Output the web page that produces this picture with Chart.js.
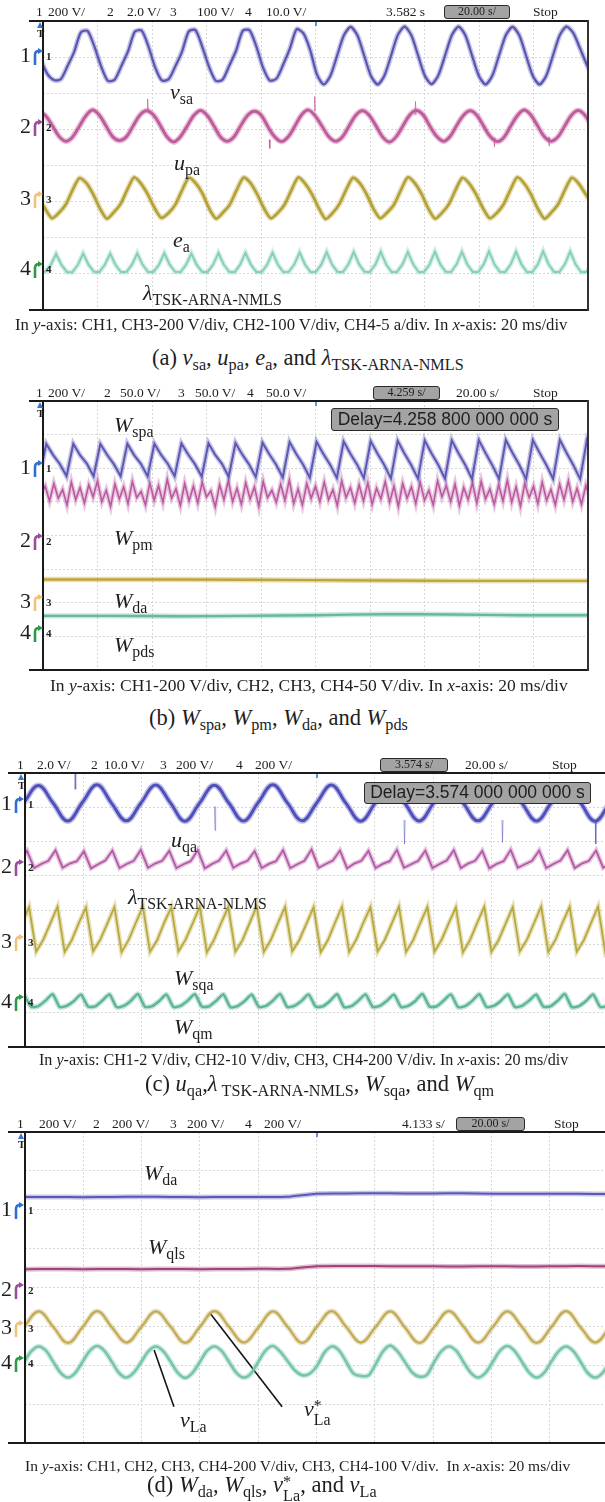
<!DOCTYPE html>
<html>
<head>
<meta charset="utf-8">
<script src="https://cdn.jsdelivr.net/npm/chart.js@4.4.1/dist/chart.umd.min.js"></script>
<style>
body{margin:0;width:605px;height:1502px;position:relative;overflow:hidden;background:#fff;font-family:'Liberation Serif','Times New Roman',serif;color:#1e1e1e}
.t{position:absolute;white-space:nowrap;line-height:1;transform:translateY(-50%)}
canvas{position:absolute}
.ln{position:absolute;background:#1a1a1a}
.box{position:absolute;background:#a3a3a3;border:1.5px solid #2a2a2a;border-radius:3px;box-sizing:border-box;text-align:center;white-space:nowrap}
.hd{font-size:13.5px}
.lab{font-size:22px}
.lam{font-size:22px}
.cap1{font-size:14px}
.cap2{font-size:22.5px}
sub{font-style:normal;font-size:0.72em;vertical-align:-0.3em;line-height:0}
.st{display:inline-block;font-style:normal;font-size:0.72em;line-height:0.85;vertical-align:-0.55em;text-align:left}
</style>
</head>
<body>
<script>
// ---------- panel (a): v_sa, u_pa, e_a, lambda ----------
const aVoltsPerDiv = [200, 100, 200, 5];
const aGroundDiv = [7.045, 5.093, 3.1, 1.163];

// sampling = [first sample ms, sample step ms]
const vsaSampling = [-0.95, 2.475];
const vsa = [-20, -100,
  -136, -132, -60, 20, 128, 136, 50, -60,
  -140, -134, -58, 24, 132, 138, 52, -64,
  -138, -132, -60, 22, 134, 140, 48, -62,
  -140, -134, -56, 26, 136, 140, 52, -66,
  -138, -128, -50, 40, 146, 122, 30, -105,
  -160, -112, 0, 112, 158, 112, 0, -112,
  -160, -112, 0, 114, 160, 112, 0, -112,
  -158, -110, 0, 112, 160, 112, 0, -112,
  -160, -112, 0, 112, 158, 112, 0, -112,
  -160, -112, 0, 112, 160, 125, 40, -50, -130];

const upaSampling = [-1.6, 2.475];
const upa = [40, 29, 2, -28, -42, -31, -2, 28,
  44, 30, 0, -30, -40, -30, 0, 30,
  42, 31, 3, -29, -44, -30, -1, 29,
  43, 29, 0, -31, -42, -29, 2, 30,
  41, 30, -2, -30, -43, -30, 0, 31,
  44, 28, 0, -29, -42, -31, -1, 29,
  42, 30, 1, -30, -44, -30, 0, 30,
  43, 31, 0, -28, -42, -29, 2, 30,
  42, 29, -1, -30, -43, -31, 0, 29,
  44, 30, 0, -30, -42, -30, 0, 30,
  43, 30, 0];
const upaSpikeTime = [38.2, 83, 99.5, 136.5, 165.5, 185.5];
const upaSpikeFrom = [40, -38, 42, 30, -32, -30];
const upaSpikeTo = [75, -62, 82, 68, -58, -55];

const eaSampling = [-1.7, 2.51];
const ea = [0, -60,
  -112, -82, -36, 44, 110, 84, 22, -58,
  -114, -80, -34, 46, 114, 80, 20, -56,
  -110, -84, -38, 42, 112, 82, 24, -60,
  -114, -80, -35, 45, 113, 84, 20, -58,
  -112, -82, -36, 44, 114, 80, 22, -56,
  -116, -84, -34, 46, 112, 82, 20, -60,
  -112, -80, -36, 44, 114, 84, 24, -58,
  -114, -82, -35, 45, 112, 80, 20, -56,
  -112, -84, -36, 44, 114, 82, 22, -58,
  -114, -80, -34, 46, 112, 80, 22, -30];

const lamASampling = [-1.16, 1.986];
const lamA = [-0.55, -0.5, 0.4,
  1.95, 0.42, -0.55, -0.58, 0.40,
  2.00, 0.45, -0.52, -0.55, 0.44,
  1.98, 0.40, -0.56, -0.55, 0.42,
  2.02, 0.44, -0.55, -0.54, 0.45,
  2.05, 0.46, -0.54, -0.56, 0.43,
  2.00, 0.42, -0.55, -0.55, 0.44,
  2.08, 0.45, -0.53, -0.57, 0.46,
  2.10, 0.46, -0.55, -0.55, 0.45,
  2.12, 0.44, -0.56, -0.54, 0.47,
  2.15, 0.48, -0.54, -0.55, 0.46,
  2.20, 0.47, -0.55, -0.56, 0.48,
  2.22, 0.49, -0.53, -0.55, 0.47,
  2.25, 0.48, -0.55, -0.54, 0.49,
  2.22, 0.50, -0.56, -0.55, 0.48,
  2.28, 0.49, -0.54, -0.56, 0.50,
  2.25, 0.48, -0.55, -0.55, 0.49,
  2.30, 0.50, -0.53, -0.54, 0.50,
  2.26, 0.49, -0.55, -0.56, 0.48,
  2.30, 0.51, -0.54, -0.55, 0.50,
  2.28, 0.50, -0.55, -0.54, 0.49];

// ---------- panel (b): W_spa, W_pm, W_da, W_pds ----------
const bVoltsPerDiv = [200, 50, 50, 50];
const bGroundDiv = [6.037, 3.866, 2.052, 1.13];

const wspaSampling = [-1.28, 2.48];
const wspa = [-54,
  137, 72, 18, -54,  138, 70, 20, -55,  137, 73, 17, -54,  139, 71, 19, -56,
  138, 72, 18, -55,  140, 74, 17, -57,  141, 72, 19, -58,  143, 75, 16, -60,
  145, 76, 15, -62,  148, 77, 15, -63,  150, 78, 14, -65,  152, 79, 14, -66,
  154, 80, 13, -68,  156, 81, 12, -69,  158, 82, 13, -70,  159, 82, 12, -71,
  160, 83, 11, -71,  161, 83, 12, -72,  160, 84, 12, -71,  161, 83, 11, -72,
  162, 84, 12];

const wpmSampling = [-0.8, 1.6];
const wpm = [68, 80, 58, 84, 62, 75, 52, 86, 60, 78, 55, 82, 64, 88, 57, 74, 50, 83, 61, 79,
  54, 87, 63, 72, 52, 85, 59, 81, 56, 90, 62, 76, 51, 84, 58, 80, 55, 86, 64, 73,
  49, 82, 60, 88, 57, 77, 53, 85, 61, 79, 50, 87, 63, 74, 56, 83, 59, 89, 54, 76,
  52, 84, 62, 80, 57, 86, 60, 75, 51, 88, 63, 78, 55, 82, 58, 85, 53, 77, 61, 87,
  56, 80, 50, 84, 62, 79, 54, 86, 59, 74, 52, 88, 64, 81, 57, 83, 51, 78, 60, 85,
  55, 87, 61, 76, 53, 82, 58, 89, 56, 79, 50, 84, 63, 80, 54, 86, 59, 75, 52, 83,
  60, 88, 57, 77, 53, 81, 62];

const wdaBSampling = [0, 50];
const wdaB = [32, 32, 31, 30, 30];
const wpdsSampling = [0, 25];
const wpds = [24, 24, 23.5, 24, 25, 26.5, 26, 25, 25];

// ---------- panel (c): u_qa, lambda, W_sqa, W_qm ----------
const cVoltsPerDiv = [2, 10, 200, 200];
const cGroundDiv = [7.124, 5.285, 3.095, 1.343];

const uqaSampling = [-0.425, 5.025];
const uqa = [0.02, 1.02, 0.00, -1.05, 0.03, 1.06, -0.02, -1.04, 0.00, 1.05, 0.02, -1.06,
  -0.01, 1.04, 0.00, -1.05, 0.02, 1.06, 0.01, -1.04, 0.00, 1.05, -0.02, -1.06,
  0.01, 1.04, 0.00, -1.05, 0.02, 1.05, 0.00, -1.04, -0.01, 1.06, 0.01, -1.05,
  0.00, 1.04, 0.02, -1.06, 0.00, 1.05];
const uqaSpikeTime = [17, 65, 130, 163.6, 195.6];
const uqaSpikeFrom = [0.8, -0.2, -1.0, -1.0, -1.0];
const uqaSpikeTo = [1.9, -1.6, -2.4, -2.3, -2.4];

const lamCSampling = [-1.74, 2.44];
const lamC = [1.5,
  4.4, -0.6, 0.6, 1.5,  4.6, -0.5, 0.7, 1.4,  4.3, -0.7, 0.5, 1.6,  4.5, -0.6, 0.6, 1.5,
  4.7, -0.5, 0.7, 1.5,  4.4, -0.6, 0.5, 1.4,  4.6, -0.7, 0.6, 1.6,  4.5, -0.5, 0.7, 1.5,
  4.3, -0.6, 0.6, 1.4,  4.6, -0.6, 0.5, 1.5,  4.8, -0.5, 0.6, 1.6,  4.5, -0.7, 0.7, 1.5,
  4.4, -0.6, 0.6, 1.4,  4.7, -0.5, 0.5, 1.5,  4.5, -0.6, 0.6, 1.6,  4.6, -0.6, 0.7, 1.5,
  4.4, -0.7, 0.6, 1.4,  4.7, -0.5, 0.5, 1.5,  4.5, -0.6, 0.6, 1.6,  4.6, -0.6, 0.7, 1.5,
  4.5, -0.5, 0.6];

const wsqaSampling = [-1.04, 2.44];
const wsqa = [105,
  198, -62, 8, 104,  200, -64, 5, 106,  196, -60, 7, 102,  199, -65, 6, 105,
  201, -63, 4, 107,  197, -61, 8, 103,  200, -66, 6, 105,  198, -62, 5, 104,
  202, -64, 7, 106,  199, -60, 6, 102,  197, -65, 4, 105,  200, -63, 8, 107,
  198, -61, 6, 103,  201, -64, 5, 105,  199, -62, 7, 104,  196, -66, 6, 106,
  200, -63, 4, 102,  198, -60, 8, 105,  201, -64, 6, 107,  199, -62, 5, 104,
  200, -63, 7];

const wqmSampling = [-0.3, 2.44];
const wqm = [38, -34, -30, 2,  40, -35, -28, 0,  37, -33, -31, 3,  39, -36, -29, 1,
  41, -34, -30, 0,  38, -35, -28, 2,  40, -33, -31, 1,  39, -36, -30, 0,
  37, -34, -29, 3,  41, -35, -28, 1,  38, -33, -31, 0,  40, -36, -30, 2,
  39, -34, -29, 1,  37, -35, -28, 0,  41, -33, -31, 3,  38, -36, -30, 1,
  40, -34, -29, 0,  39, -35, -28, 2,  37, -33, -31, 1,  41, -36, -30, 0,
  38, -34, -29, 2];

// ---------- panel (d): W_da, W_qls, v*_La, v_La ----------
const dVoltsPerDiv = [200, 200, 100, 100];
const dGroundDiv = [6.019, 3.961, 2.984, 2.084];

const wdaDSampling = [0, 10];
const wdaD = [62, 62, 61, 62, 63, 62, 61, 62, 62, 63, 79, 80, 81, 80, 80, 81, 79, 78, 79, 78, 77];
const wqlsSampling = [0, 10];
const wqls = [102, 103, 102, 103, 102, 103, 102, 103, 104, 104, 117, 118, 118, 117, 117, 116, 117, 116, 117, 118, 117];

const vlaRefSampling = [-0.325, 5.025];
const vlaRef = [1, 40, 0, -41, 0, 41, -1, -40, 0, 40, 1, -41, 0, 41, 0, -40, -1, 40, 0, -41, 1,
  41, 0, -40, 0, 40, -1, -41, 0, 41, 1, -40, 0, 40, 0, -41, 0, 41, -1, -40, 0, 40];

const vlaSampling = [-0.325, 2.5125];
const vla = [0, 28, 40, 29, 0, -28, -40, -28,
  1, 29, 41, 28, 0, -29, -40, -27,
  0, 28, 40, 28, 1, -28, -41, -28,
  0, 29, 40, 28, 0, -28, -40, -29,
  1, 30, 41, 26, 2, -22, -34, -30,
  -10, 24, 40, 30, 0, -30, -36, -35,
  -6, 27, 42, 27, 0, -27, -38, -33,
  0, 28, 40, 29, 0, -28, -40, -28,
  0, 29, 41, 28, 0, -28, -40, -28,
  1, 28, 40, 28, 0, -29, -40, -28,
  0, 28];

// leader lines for the v_La / v*_La labels (ms, divisions)
const vlaPointerTime = [44.3, 51.1];
const vlaPointerDiv = [2.39, 0.93];
const vlaRefPointerTime = [63.5, 88.2];
const vlaRefPointerDiv = [3.34, 0.93];

// ---------- helpers ----------
function rgba(hex, a) {
  const n = parseInt(hex.slice(1), 16);
  return 'rgba(' + (n >> 16) + ',' + ((n >> 8) & 255) + ',' + (n & 255) + ',' + a + ')';
}

function trace(vals, sampling, vdiv, ground, color, width, tension) {
  return {
    data: vals.map((v, i) => ({ x: sampling[0] + i * sampling[1], y: ground + v / vdiv })),
    borderColor: color, borderWidth: width, tension: tension || 0, pointRadius: 0, fill: false
  };
}

// blurry scope trace: a soft wide stroke under a sharper core
function fuzzy(vals, sampling, vdiv, ground, color, width, tension) {
  return [
    trace(vals, sampling, vdiv, ground, rgba(color, 0.35), width + 3, tension),
    trace(vals, sampling, vdiv, ground, color, width, tension)
  ];
}

function spikes(ts, from, to, vdiv, ground, color) {
  const pts = [];
  ts.forEach((t, i) => {
    pts.push({ x: t, y: ground + from[i] / vdiv }, { x: t + 0.2, y: ground + to[i] / vdiv },
      { x: t + 0.4, y: ground + from[i] / vdiv }, { x: t + 0.41, y: null });
  });
  return { data: pts, borderColor: color, borderWidth: 1, pointRadius: 0, spanGaps: false };
}

function scope(box, datasets) {
  const c = document.createElement('canvas');
  c.width = box.w; c.height = box.h;
  c.style.left = box.x + 'px'; c.style.top = box.y + 'px';
  document.body.appendChild(c);
  const grid = { color: '#d6d6d6', drawTicks: false, lineWidth: 1 };
  new Chart(c, {
    type: 'line',
    data: { datasets: datasets },
    options: {
      responsive: false, animation: false, devicePixelRatio: 1,
      layout: { padding: 0 },
      plugins: { legend: { display: false }, tooltip: { enabled: false } },
      scales: {
        x: { type: 'linear', min: 0, max: 200, ticks: { display: false, stepSize: 20 }, grid: grid, border: { display: false, dash: [2, 2] } },
        y: { type: 'linear', min: 0, max: 8, ticks: { display: false, stepSize: 1 }, grid: grid, border: { display: false, dash: [2, 2] } }
      }
    }
  });
}

function put(x, y, html, cls, css) {
  const d = document.createElement('div');
  d.className = 't ' + (cls || '');
  d.innerHTML = html;
  d.style.left = x + 'px';
  d.style.top = y + 'px';
  if (css) Object.assign(d.style, css);
  document.body.appendChild(d);
  return d;
}

function fitWidth(d, w) {
  const r = d.getBoundingClientRect().width;
  const fs = parseFloat(getComputedStyle(d).fontSize);
  d.style.fontSize = (fs * w / r) + 'px';
}

function line(x, y, w, h, color) {
  const d = document.createElement('div');
  d.className = 'ln';
  Object.assign(d.style, { left: x + 'px', top: y + 'px', width: w + 'px', height: h + 'px' });
  if (color) d.style.background = color;
  document.body.appendChild(d);
}

function grayBox(x1, x2, y1, y2, text, font, size) {
  const d = document.createElement('div');
  d.className = 'box';
  Object.assign(d.style, {
    left: x1 + 'px', top: y1 + 'px', width: (x2 - x1) + 'px', height: (y2 - y1) + 'px',
    font: size + 'px ' + font, lineHeight: (y2 - y1 - 3) + 'px'
  });
  d.textContent = text;
  document.body.appendChild(d);
  return d;
}

const markerColors = ['#2f6fd0', '#9b4d9e', '#f2c27a', '#2e9a48'];
function marker(n, bigX, arrowX, smallX, y) {
  put(bigX, y, String(n), '', { fontSize: '22px' });
  const s = document.createElementNS('http://www.w3.org/2000/svg', 'svg');
  s.setAttribute('width', '11'); s.setAttribute('height', '18');
  s.style.position = 'absolute'; s.style.left = arrowX + 'px'; s.style.top = (y - 7) + 'px';
  const c = markerColors[n - 1];
  s.innerHTML = '<path d="M3 17 L3 7 Q3 3 7 3" fill="none" stroke="' + c + '" stroke-width="2.6"/>' +
    '<path d="M6 0 L11 3 L6 6 Z" fill="' + c + '"/>';
  document.body.appendChild(s);
  put(smallX, y + 1, String(n), '', { fontSize: '11px', fontWeight: 'bold' });
}

function trigger(x, y) {
  const s = document.createElementNS('http://www.w3.org/2000/svg', 'svg');
  s.setAttribute('width', '8'); s.setAttribute('height', '6');
  s.style.position = 'absolute'; s.style.left = (x - 1) + 'px'; s.style.top = y + 'px';
  s.innerHTML = '<path d="M0 6 L3 0 L6 6 Z" fill="#3b74d2"/>';
  document.body.appendChild(s);
  put(x - 1, y + 11, 'T', '', { fontSize: '11px', fontWeight: 'bold' });
}

function frame(p, rightBorder) {
  line(p.ext, p.y - 1, p.x + p.w - p.ext, 2);
  line(p.ext, p.y + p.h - 1, p.x + p.w - p.ext, 2);
  line(p.x - 1, p.y - 1, 2, p.h + 2);
  if (rightBorder) line(p.x + p.w - 1, p.y - 1, 1.5, p.h + 2, '#333');
  line(p.x + p.w / 2 - 1, p.y + 1, 2, 4, '#6c8fd8');
}

function header(items, y) {
  items.forEach(it => put(it[0], y, it[1], 'hd'));
}

function groundPx(p, g) { return p.y + p.h - g * p.h / 8; }

const delayFont = "'Liberation Sans', Arial, sans-serif";
const boxFont = "'Liberation Serif', serif";

// ---------- panel (a) ----------
const pA = { x: 43, y: 21, w: 545, h: 289, ext: 29 };
const aCol = ['#5a55b3', '#bf5c9c', '#b4a034', '#86cfba'];
scope(pA, [].concat(
  fuzzy(vsa, vsaSampling, aVoltsPerDiv[0], aGroundDiv[0], aCol[0], 2.2, 0.25),
  fuzzy(upa, upaSampling, aVoltsPerDiv[1], aGroundDiv[1], aCol[1], 3, 0.35),
  [spikes(upaSpikeTime, upaSpikeFrom, upaSpikeTo, aVoltsPerDiv[1], aGroundDiv[1], rgba(aCol[1], 0.7))],
  fuzzy(ea, eaSampling, aVoltsPerDiv[2], aGroundDiv[2], aCol[2], 2.6, 0.25),
  fuzzy(lamA, lamASampling, aVoltsPerDiv[3], aGroundDiv[3], aCol[3], 2, 0)
));
frame(pA, true);
header([[36, '1'], [48, '200 V/'], [107, '2'], [127, '2.0 V/'], [170, '3'], [197, '100 V/'],
  [245, '4'], [266, '10.0 V/'], [386, '3.582 s'], [533, 'Stop']], 12);
grayBox(444, 510, 5, 19, '20.00 s/', boxFont, 12);
trigger(38, 22);
aGroundDiv.forEach((g, i) => marker(i + 1, 20, 32, 46, groundPx(pA, g)));
put(170, 92, '<i>v</i><sub>sa</sub>', 'lab');
put(174, 163, '<i>u</i><sub>pa</sub>', 'lab');
put(173, 240, '<i>e</i><sub>a</sub>', 'lab');
put(143, 293, '<i>λ</i><sub>TSK-ARNA-NMLS</sub>', 'lam');
fitWidth(put(15, 325, 'In <i>y</i>-axis: CH1, CH3-200 V/div, CH2-100 V/div, CH4-5 a/div. In <i>x</i>-axis: 20 ms/div', 'cap1'), 553);
put(152, 358, '(a) <i>v</i><sub>sa</sub>, <i>u</i><sub>pa</sub>, <i>e</i><sub>a</sub>, and <i>λ</i><sub>TSK-ARNA-NMLS</sub>', 'cap2');

// ---------- panel (b) ----------
const pB = { x: 43, y: 401, w: 545, h: 269, ext: 29 };
const bCol = ['#5c58b4', '#b95aa0', '#bfa638', '#66b99b'];
scope(pB, [].concat(
  fuzzy(wspa, wspaSampling, bVoltsPerDiv[0], bGroundDiv[0], bCol[0], 2, 0),
  fuzzy(wpm, wpmSampling, bVoltsPerDiv[1], bGroundDiv[1], bCol[1], 1.6, 0),
  fuzzy(wdaB, wdaBSampling, bVoltsPerDiv[2], bGroundDiv[2], bCol[2], 2.4, 0.3),
  fuzzy(wpds, wpdsSampling, bVoltsPerDiv[3], bGroundDiv[3], bCol[3], 2.4, 0.3)
));
frame(pB, true);
header([[36, '1'], [48, '200 V/'], [104, '2'], [120, '50.0 V/'], [178, '3'], [195, '50.0 V/'],
  [247, '4'], [266, '50.0 V/'], [456, '20.00 s/'], [533, 'Stop']], 393);
grayBox(373, 440, 386, 400, '4.259 s/', boxFont, 12);
trigger(38, 402);
bGroundDiv.forEach((g, i) => marker(i + 1, 20, 32, 46, groundPx(pB, g)));
grayBox(331, 559, 408, 431, 'Delay=4.258 800 000 000 s', delayFont, 17.5);
put(114, 425, '<i>W</i><sub>spa</sub>', 'lab');
put(114, 538, '<i>W</i><sub>pm</sub>', 'lab');
put(114, 601, '<i>W</i><sub>da</sub>', 'lab');
put(114, 645, '<i>W</i><sub>pds</sub>', 'lab');
fitWidth(put(50, 686, 'In <i>y</i>-axis: CH1-200 V/div, CH2, CH3, CH4-50 V/div. In <i>x</i>-axis: 20 ms/div', 'cap1'), 518);
put(149, 718, '(b) <i>W</i><sub>spa</sub>, <i>W</i><sub>pm</sub>, <i>W</i><sub>da</sub>, and <i>W</i><sub>pds</sub>', 'cap2');

// ---------- panel (c) ----------
const pC = { x: 25, y: 773, w: 583, h: 274, ext: 8 };
const cCol = ['#5150bd', '#b45aa5', '#b9a83c', '#5db596'];
scope(pC, [].concat(
  fuzzy(uqa, uqaSampling, cVoltsPerDiv[0], cGroundDiv[0], cCol[0], 3, 0.4),
  [spikes(uqaSpikeTime, uqaSpikeFrom, uqaSpikeTo, cVoltsPerDiv[0], cGroundDiv[0], rgba(cCol[0], 0.5))],
  fuzzy(lamC, lamCSampling, cVoltsPerDiv[1], cGroundDiv[1], cCol[1], 1.8, 0),
  fuzzy(wsqa, wsqaSampling, cVoltsPerDiv[2], cGroundDiv[2], cCol[2], 1.8, 0),
  fuzzy(wqm, wqmSampling, cVoltsPerDiv[3], cGroundDiv[3], cCol[3], 2.4, 0.2)
));
frame(pC, false);
header([[17, '1'], [37, '2.0 V/'], [91, '2'], [104, '10.0 V/'], [160, '3'], [176, '200 V/'],
  [236, '4'], [255, '200 V/'], [465, '20.00 s/'], [552, 'Stop']], 765);
grayBox(380, 448, 758, 772, '3.574 s/', boxFont, 12);
trigger(19, 774);
cGroundDiv.forEach((g, i) => marker(i + 1, 1, 13, 28, groundPx(pC, g)));
grayBox(364, 591, 782, 804, 'Delay=3.574 000 000 000 s', delayFont, 17.5);
put(171, 840, '<i>u</i><sub>qa</sub>', 'lab');
put(128, 897, '<i>λ</i><sub>TSK-ARNA-NLMS</sub>', 'lam');
put(174, 978, '<i>W</i><sub>sqa</sub>', 'lab');
put(174, 1027, '<i>W</i><sub>qm</sub>', 'lab');
fitWidth(put(39, 1060, 'In <i>y</i>-axis: CH1-2 V/div, CH2-10 V/div, CH3, CH4-200 V/div. In <i>x</i>-axis: 20 ms/div', 'cap1'), 530);
put(145, 1084, '(c) <i>u</i><sub>qa</sub>,<i>λ</i><sub> TSK-ARNA-NMLS</sub>, <i>W</i><sub>sqa</sub>, and <i>W</i><sub>qm</sub>', 'cap2');

// ---------- panel (d) ----------
const pD = { x: 25, y: 1132, w: 583, h: 311, ext: 8 };
const dCol = ['#5b58b6', '#a04678', '#c2ab55', '#78c6a9'];
scope(pD, [].concat(
  fuzzy(wdaD, wdaDSampling, dVoltsPerDiv[0], dGroundDiv[0], dCol[0], 2, 0.2),
  fuzzy(wqls, wqlsSampling, dVoltsPerDiv[1], dGroundDiv[1], dCol[1], 2, 0.2),
  fuzzy(vlaRef, vlaRefSampling, dVoltsPerDiv[2], dGroundDiv[2], dCol[2], 2.2, 0.4),
  fuzzy(vla, vlaSampling, dVoltsPerDiv[3], dGroundDiv[3], dCol[3], 2.6, 0.3),
  [
    { data: vlaPointerTime.map((t, i) => ({ x: t, y: vlaPointerDiv[i] })), borderColor: '#151515', borderWidth: 1.6, pointRadius: 0 },
    { data: vlaRefPointerTime.map((t, i) => ({ x: t, y: vlaRefPointerDiv[i] })), borderColor: '#151515', borderWidth: 1.6, pointRadius: 0 }
  ]
));
frame(pD, false);
header([[17, '1'], [39, '200 V/'], [93, '2'], [112, '200 V/'], [170, '3'], [187, '200 V/'],
  [245, '4'], [264, '200 V/'], [402, '4.133 s/'], [554, 'Stop']], 1124);
grayBox(456, 525, 1117, 1131, '20.00 s/', boxFont, 12);
trigger(19, 1133);
dGroundDiv.forEach((g, i) => marker(i + 1, 1, 13, 28, groundPx(pD, g)));
put(144, 1173, '<i>W</i><sub>da</sub>', 'lab');
put(148, 1247, '<i>W</i><sub>qls</sub>', 'lab');
put(180, 1420, '<i>v</i><sub>La</sub>', 'lab');
put(304, 1412, '<i>v</i><span class="st">*<br>La</span>', 'lab');
fitWidth(put(25, 1466, 'In <i>y</i>-axis: CH1, CH2, CH3, CH4-200 V/div, CH3, CH4-100 V/div.&nbsp; In <i>x</i>-axis: 20 ms/div', 'cap1'), 546);
put(147, 1489, '(d) <i>W</i><sub>da</sub>, <i>W</i><sub>qls</sub>, <i>v</i><span class="st">*<br>La</span>, and <i>v</i><sub>La</sub>', 'cap2');
</script>
</body>
</html>
